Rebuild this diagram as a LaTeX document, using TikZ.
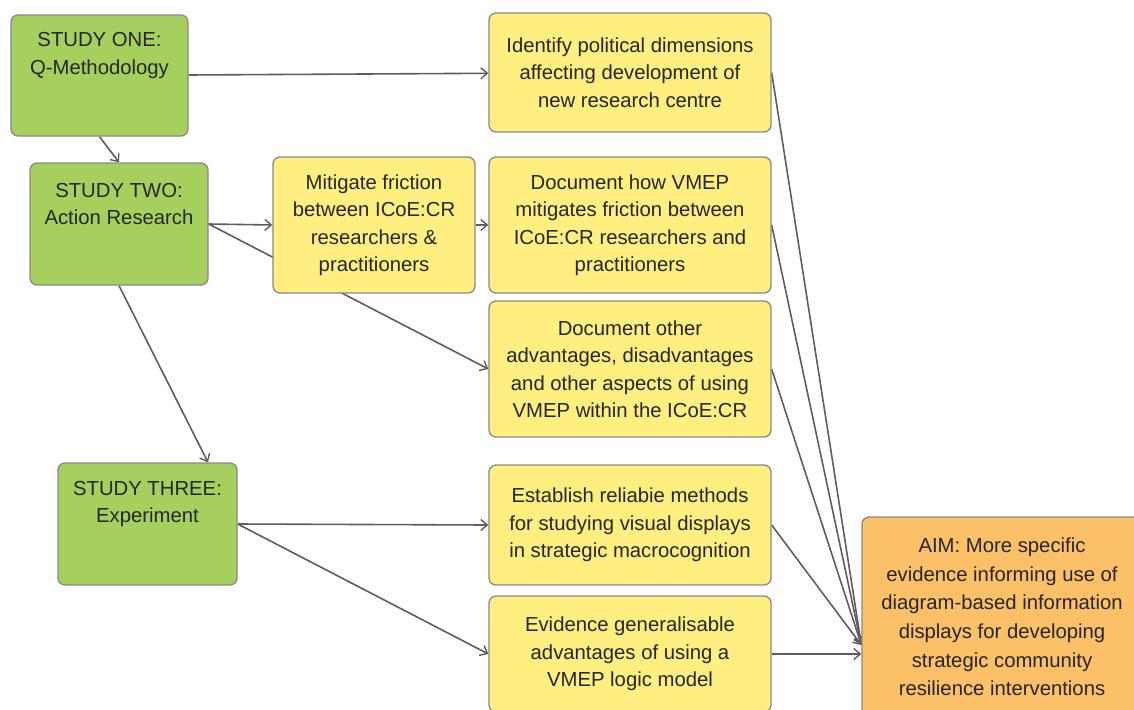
\documentclass[tikz,border=0pt]{standalone}
\usepackage{fontspec}
\setmainfont{Liberation Sans}
\usetikzlibrary{arrows.meta,backgrounds}

\definecolor{studygreen}{HTML}{A6D05E}
\definecolor{goalyellow}{HTML}{FFEE80}
\definecolor{aimorange}{HTML}{FBC068}
\definecolor{boxedge}{HTML}{8A8A8A}
\definecolor{linkgray}{HTML}{5E5E5E}
\definecolor{inkdark}{HTML}{262626}

\begin{document}
\begin{tikzpicture}[x=1pt, y=-1pt,
  boxtext/.style={font=\fontsize{20.3}{27.5}\selectfont, text=inkdark, align=center, inner sep=0pt},
  box/.style={boxtext, draw=boxedge, line width=1.3pt, rounded corners=7pt},
  study/.style={box, fill=studygreen},
  goal/.style={box, fill=goalyellow, minimum width=282pt},
  aimbox/.style={box, fill=aimorange},
  link/.style={draw=linkgray, line width=1.6pt,
    -{Straight Barb[length=6.5pt, width=11pt, line width=1.4pt]}}]

\useasboundingbox (0,0) rectangle (1134,709);
\clip (0,0) rectangle (1134,709);

% study boxes, captions set in their upper half
\node[study, minimum width=177pt, minimum height=121pt] (s1) at (99.5,75.5) {};
\node[boxtext] (s1t) at ([yshift=20pt]s1.center) {STUDY ONE:\\Q-Methodology};
\node[study, minimum width=178pt, minimum height=122pt] (s2) at (119,224) {};
\node[boxtext] (s2t) at ([yshift=20pt]s2.center) {STUDY TWO:\\Action Research};
\node[study, minimum width=179pt, minimum height=122pt] (s3) at (147.5,524) {};
\node[boxtext] (s3t) at ([yshift=20pt]s3.center) {STUDY THREE:\\Experiment};

% intermediate step
\node[goal, minimum width=202pt, minimum height=136pt] (mit) at (374,225)
  {Mitigate friction\\between ICoE:CR\\researchers \&\\practitioners};

% objectives
\node[goal, minimum height=119pt] (idf) at (630,72.5)
  {Identify political dimensions\\affecting development of\\new research centre};
\node[goal, minimum height=136pt] (dhow) at (630,225)
  {Document how VMEP\\mitigates friction between\\ICoE:CR researchers and\\practitioners};
\node[goal, minimum height=136pt] (dother) at (630,369)
  {Document other\\advantages, disadvantages\\and other aspects of using\\VMEP within the ICoE:CR};
\node[goal, minimum height=120pt] (est) at (630,525)
  {Establish reliabie methods\\for studying visual displays\\in strategic macrocognition};
\node[goal, minimum height=116pt] (evi) at (630,654)
  {Evidence generalisable\\advantages of using a\\VMEP logic model};

% overall aim
\node[aimbox, minimum width=280pt, minimum height=200pt,
  font=\fontsize{20.3}{28.6}\selectfont] (aim) at (1002,617)
  {AIM: More specific\\evidence informing use of\\diagram-based information\\displays for developing\\strategic community\\resilience interventions};
\coordinate (aimin) at ([yshift=-28pt]aim.west);

\begin{scope}[on background layer]
  \fill[white] (0,0) rectangle (1134,709);
  \draw[link] (s1) -- (idf);
  \draw[link] (s1.south) -- (s2.north);
  \draw[link] (s2.east) -- (mit.west);
  \draw[link] (s2.east) -- (dother.west);
  \draw[link] (s2.south) -- ([xshift=60.5pt]s3.north);
  \draw[link] (mit.east) -- (dhow.west);
  \draw[link] (s3.east) -- (est.west);
  \draw[link] (s3.east) -- (evi.west);
  \draw[link] (idf.east) -- (aimin);
  \draw[link] (dhow.east) -- (aimin);
  \draw[link] (dother.east) -- (aimin);
  \draw[link] (est.east) -- (aimin);
  \draw[link] (evi.east) -- (evi.east -| aim.west);
\end{scope}
\end{tikzpicture}
\end{document}
